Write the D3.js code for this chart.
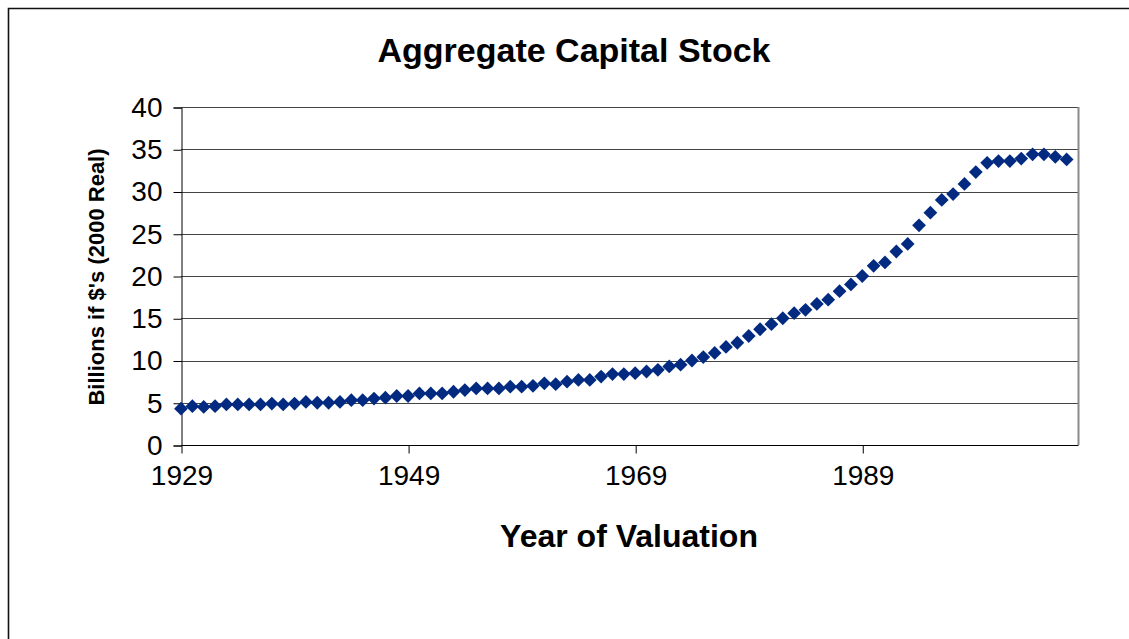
<!DOCTYPE html>
<html>
<head>
<meta charset="utf-8">
<script src="https://cdn.jsdelivr.net/npm/d3@7"></script>
<style>
  html, body { margin: 0; padding: 0; background: #fff; }
  svg { display: block; }
  text { font-family: "Liberation Sans", Arial, sans-serif; }
</style>
</head>
<body>
<svg id="chart" width="1129" height="639"></svg>
<script>
const years = d3.range(1929, 2008);
const capitalStock = [
  4.3, 4.6, 4.5, 4.6, 4.8, 4.8, 4.8, 4.8, 4.9, 4.8,
  4.9, 5.1, 5.0, 5.0, 5.1, 5.3, 5.3, 5.5, 5.6, 5.8,
  5.8, 6.1, 6.1, 6.1, 6.3, 6.5, 6.7, 6.7, 6.7, 6.9,
  6.9, 7.0, 7.3, 7.2, 7.5, 7.7, 7.7, 8.1, 8.4, 8.4,
  8.5, 8.7, 8.9, 9.3, 9.5, 10.0, 10.4, 10.9, 11.6, 12.1,
  12.9, 13.7, 14.3, 15.0, 15.6, 16.0, 16.7, 17.2, 18.2, 19.0,
  20.0, 21.2, 21.6, 22.9, 23.8, 26.0, 27.5, 29.0, 29.7, 30.9,
  32.3, 33.4, 33.6, 33.6, 33.9, 34.4, 34.4, 34.1, 33.8
];
const xTicks = [1929, 1949, 1969, 1989];
const yTicks = [0, 5, 10, 15, 20, 25, 30, 35, 40];

const titleText = "Aggregate Capital Stock";
const xTitle = "Year of Valuation";
const yTitle = "Billions if $'s (2000 Real)";

const svg = d3.select("#chart");
const L = 181, R = 1078, T = 107, B = 445;
const FONT = "'Liberation Sans', Arial, sans-serif";

const x = d3.scaleLinear().domain([1929, 2008]).range([L, R]);
const y = d3.scaleLinear().domain([0, 40]).range([B, T]);

// outer frame
svg.append("path").attr("d", "M8.5,639 L8.5,8.5 L1129,8.5")
  .attr("fill", "none").attr("stroke", "#111").attr("stroke-width", 1.6);

// gridlines
svg.append("g").selectAll("line").data(yTicks.filter(d => d > 0)).join("line")
  .attr("x1", L).attr("x2", R)
  .attr("y1", d => Math.round(y(d)) + 0.5).attr("y2", d => Math.round(y(d)) + 0.5)
  .attr("stroke", "#444").attr("stroke-width", 1);

// plot border right (gray)
svg.append("line").attr("x1", R + 0.5).attr("x2", R + 0.5).attr("y1", T).attr("y2", B)
  .attr("stroke", "#8a8a8a").attr("stroke-width", 2);

// y axis
const yAxis = d3.axisLeft(y).tickValues(yTicks).tickSize(8).tickPadding(11).tickFormat(d3.format("d"));
const gy = svg.append("g").attr("transform", `translate(${L + 0.5},0.5)`).call(yAxis);
gy.attr("font-size", null).attr("font-family", null);
gy.select(".domain").attr("stroke", "#000");
gy.selectAll(".tick line").attr("stroke", "#000");
gy.selectAll("text").style("font-size", "28px").attr("fill", "#000").style("font-family", FONT);

// x axis
const xAxis = d3.axisBottom(x).tickValues(xTicks).tickSize(8).tickPadding(12).tickFormat(d3.format("d"));
const gx = svg.append("g").attr("transform", `translate(0.5,${B + 0.5})`).call(xAxis);
gx.attr("font-size", null).attr("font-family", null);
gx.select(".domain").attr("stroke", "#000").attr("d", `M${L},0H${R}`);
gx.selectAll(".tick line").attr("stroke", "#000");
gx.selectAll("text").style("font-size", "28px").attr("fill", "#000").style("font-family", FONT);

// markers
const diamond = d3.symbol().type(d3.symbolSquare).size(95);
svg.append("g").selectAll("path").data(years.map((yr, i) => [yr, capitalStock[i]])).join("path")
  .attr("d", diamond)
  .attr("transform", d => `translate(${x(d[0])},${y(d[1])}) rotate(45)`)
  .attr("fill", "#022a80");

// titles
svg.append("text").attr("x", 574).attr("y", 62).attr("text-anchor", "middle")
  .style("font-size", "34px").attr("font-weight", "bold").text(titleText);
svg.append("text").attr("x", 629).attr("y", 547).attr("text-anchor", "middle")
  .style("font-size", "32px").attr("font-weight", "bold").text(xTitle);
svg.append("text").attr("transform", "translate(104,277) rotate(-90)").attr("text-anchor", "middle")
  .style("font-size", "22px").attr("font-weight", "bold").text(yTitle);
</script>
</body>
</html>
